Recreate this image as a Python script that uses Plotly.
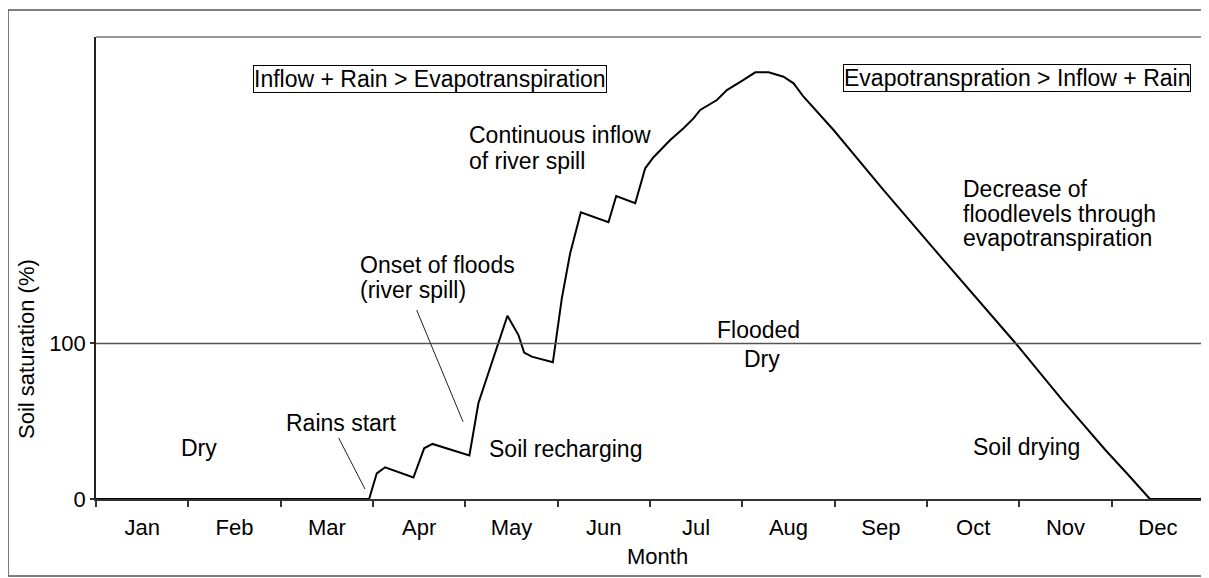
import plotly.graph_objects as go

# ---------------- data ----------------
MONTHS = ["Jan", "Feb", "Mar", "Apr", "May", "Jun", "Jul", "Aug", "Sep", "Oct", "Nov", "Dec"]
MONTH_BOUNDARIES = list(range(13))
MONTH_CENTERS = [i + 0.5 for i in range(12)]

Y_TICKS = [0, 100]
FLOOD_THRESHOLD = 100

# soil saturation curve (month position, % saturation)
curve_x = [0, 2.958, 3.041, 3.131, 3.438, 3.554, 3.644, 3.944, 4.044, 4.142,
           4.341, 4.456, 4.575, 4.637, 4.720, 4.948, 5.045, 5.135, 5.251, 5.550,
           5.634, 5.840, 5.948, 6.038, 6.219, 6.363, 6.471, 6.544, 6.725, 6.833,
           7.013, 7.140, 7.284, 7.446, 7.555, 7.663, 7.988, 8.530, 9.054, 9.957,
           10.466, 10.932, 11.181, 11.414, 12]
curve_y = [0, 0, 16.5, 20.4, 13.8, 32.6, 35.4, 30.2, 28.0, 61.7,
           97.9, 117.8, 105.4, 94.1, 91.5, 87.9, 129.0, 157.9, 184.3, 177.9,
           194.8, 190.1, 212.6, 219.7, 230.8, 238.3, 244.7, 250.1, 256.5, 262.9,
           269.4, 274.3, 274.3, 271.5, 267.2, 258.6, 237.2, 198.6, 162.2, 100.3,
           63.6, 31.5, 15.4, 0, 0]

# text labels: (text, x, y, xanchor)
labels = [
    ("Continuous inflow", 4.018, 234.0, "left"),
    ("of river spill", 4.018, 217.3, "left"),
    ("Onset of floods", 2.838, 150.4, "left"),
    ("(river spill)", 2.838, 134.4, "left"),
    ("Decrease of", 9.369, 199.3, "left"),
    ("floodlevels through", 9.369, 183.2, "left"),
    ("evapotranspiration", 9.369, 167.8, "left"),
    ("Flooded", 7.170, 108.6, "center"),
    ("Dry", 7.213, 90.0, "center"),
    ("Dry", 1.116, 32.8, "center"),
    ("Rains start", 2.654, 48.9, "center"),
    ("Soil recharging", 4.235, 32.1, "left"),
    ("Soil drying", 10.073, 33.4, "center"),
]
boxed_labels = [
    ("Inflow + Rain > Evapotranspiration", 3.617, 269.7),
    ("Evapotranspration > Inflow + Rain", 9.980, 270.4),
]
# leader lines: (x0, y0, x1, y1)
leaders = [
    (2.629, 39.2, 2.913, 6.4),
    (3.473, 121.5, 3.975, 49.7),
]

FONT = "Arial, Liberation Sans, sans-serif"
FS = 23
TFS = 22

fig = go.Figure()
fig.add_trace(go.Scatter(x=curve_x, y=curve_y, mode="lines",
                         line=dict(color="black", width=2), showlegend=False,
                         hoverinfo="skip"))

annotations = []
for t, x, y, anc in labels:
    annotations.append(dict(text=t, x=x, y=y, xref="x", yref="y", showarrow=False,
                            xanchor=anc, yanchor="middle",
                            font=dict(family=FONT, size=FS, color="black")))
for t, x, y in boxed_labels:
    annotations.append(dict(text=t, x=x, y=y, xref="x", yref="y", showarrow=False,
                            xanchor="center", yanchor="middle",
                            bordercolor="black", borderwidth=1, borderpad=0,
                            bgcolor="white",
                            font=dict(family=FONT, size=FS, color="black")))
# axis titles
annotations.append(dict(text="Soil saturation (%)", x=-0.0623, y=0.3247, xref="paper",
                        yref="paper", showarrow=False, textangle=-90,
                        xanchor="center", yanchor="middle",
                        font=dict(family=FONT, size=TFS, color="black")))
annotations.append(dict(text="Month", x=0.507, y=-0.1249, xref="paper", yref="paper",
                        showarrow=False, xanchor="center", yanchor="middle",
                        font=dict(family=FONT, size=TFS, color="black")))

shapes = []
# flooded/dry threshold line
shapes.append(dict(type="line", xref="paper", yref="y", x0=0, x1=1.01,
                   y0=FLOOD_THRESHOLD, y1=FLOOD_THRESHOLD,
                   line=dict(color="#555555", width=1.5)))
for x0, y0, x1, y1 in leaders:
    shapes.append(dict(type="line", xref="x", yref="y", x0=x0, y0=y0, x1=x1, y1=y1,
                       line=dict(color="#222222", width=1)))
# plot area top border
shapes.append(dict(type="line", xref="paper", yref="paper", x0=0, x1=1.01, y0=1, y1=1,
                   line=dict(color="#777777", width=1.5)))
# outer chart border
shapes.append(dict(type="rect", xref="paper", yref="paper", x0=-0.0794, x1=1.02,
                   y0=-0.1667, y1=1.0584, line=dict(color="#555555", width=1.5)))

fig.update_layout(
    width=1201, height=570,
    margin=dict(l=88, r=5, t=29, b=79),
    paper_bgcolor="white", plot_bgcolor="white",
    font=dict(family=FONT, size=TFS, color="black"),
    annotations=annotations, shapes=shapes,
    xaxis=dict(range=[0, 12], showgrid=False, zeroline=False,
               showline=True, linecolor="#333333", linewidth=2,
               tickvals=MONTH_CENTERS, ticktext=MONTHS, ticks="",
               ticklabelstandoff=8,
               tickfont=dict(family=FONT, size=TFS, color="black"),
               minor=dict(tickvals=MONTH_BOUNDARIES, ticks="outside", ticklen=6,
                          tickcolor="#333333", tickwidth=1.5, showgrid=False)),
    yaxis=dict(range=[0, 297], showgrid=False, zeroline=False,
               showline=True, linecolor="#222222", linewidth=1.5,
               tickvals=Y_TICKS, ticks="outside", ticklen=4, tickcolor="#333333",
               tickwidth=1.5,
               tickfont=dict(family=FONT, size=TFS, color="black")),
)

fig.write_html("out.html")
